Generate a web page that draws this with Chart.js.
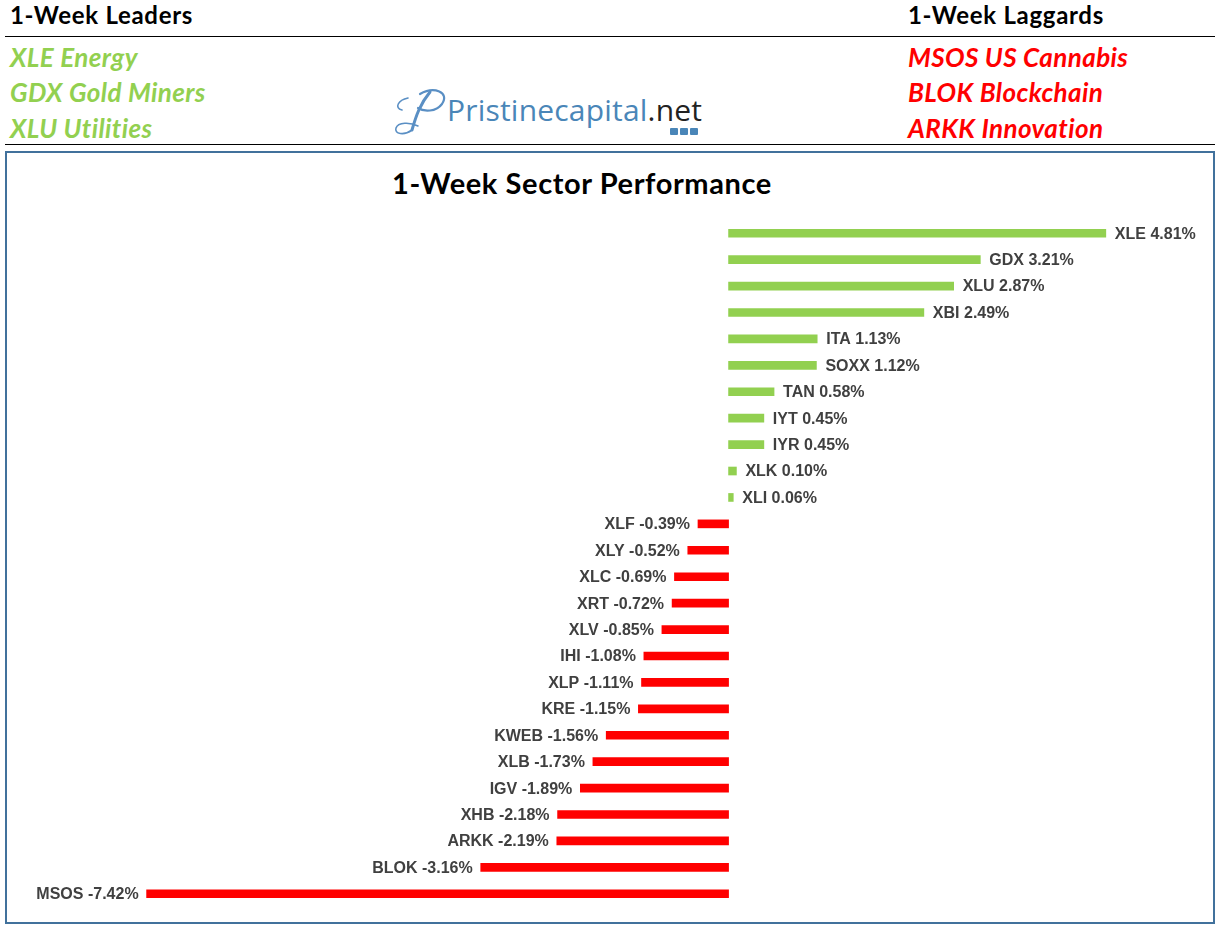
<!DOCTYPE html>
<html>
<head>
<meta charset="utf-8">
<script src="https://cdn.jsdelivr.net/npm/chart.js@4.4.1/dist/chart.umd.min.js"></script>
<style>
  body { margin: 0; background: #fff; width: 1218px; height: 928px; position: relative; overflow: hidden; font-family: Lato, 'Noto Sans', sans-serif; }
  .hdr { position: absolute; font-weight: bold; font-size: 24px; letter-spacing: 0.7px; color: #000; line-height: 30px; }
  .item { position: absolute; font-weight: bold; font-style: italic; font-size: 26px; letter-spacing: 0.4px; line-height: 30px; }
  .green { color: #92D050; }
  .red { color: #FF0000; }
  .rule { position: absolute; left: 5px; width: 1210px; height: 1px; background: #000; }
  .box { position: absolute; left: 5px; top: 151px; width: 1206px; height: 769px; border: 2px solid #41719C; }
  .title { position: absolute; left: 282px; width: 600px; top: 166px; text-align: center; font-weight: bold; font-size: 29px; letter-spacing: 0.6px; color: #000; line-height: 34px; }
  .logo { position: absolute; left: 390px; top: 86px; width: 320px; height: 52px; white-space: nowrap; }
  .logo svg { position: absolute; left: 0; top: 0; }
  .logo .name { font-family: 'Open Sans', sans-serif; font-size: 30px; color: #4A86B8; position: absolute; left: 57px; top: 6px; line-height: 36px; letter-spacing: 0.2px; }
  .logo .name span { color: #222; }
  .icons { position: absolute; left: 280px; top: 42px; display: flex; gap: 2px; }
  .icons i { display: block; width: 8px; height: 7px; background: #4A86B8; border-radius: 1px; }
  #chart { position: absolute; left: 7px; top: 220px; }
</style>
</head>
<body>
<div class="hdr" style="left:10px; top:0px;">1-Week Leaders</div>
<div class="hdr" style="left:908px; top:0px;">1-Week Laggards</div>
<div class="rule" style="top:36px;"></div>
<div class="rule" style="top:144px;"></div>
<div id="leaders"></div>
<div id="laggards"></div>
<div class="logo">
  <svg width="60" height="52" viewBox="0 0 60 52">
    <g fill="none" stroke="#5A8FC4" stroke-linecap="round">
      <path d="M22 44 C 26 30, 30 18, 40 6" stroke-width="3"/>
      <path d="M30 8 C 44 0, 60 6, 52 18 C 46 26, 34 26, 28 22" stroke-width="2.2"/>
      <path d="M18 12 C 8 14, 4 22, 12 24" stroke-width="1.6"/>
      <path d="M22 44 C 14 50, 4 48, 6 42 C 8 36, 20 36, 28 40" stroke-width="1.6"/>
    </g>
  </svg>
  <div class="name">Pristinecapital<span>.net</span></div>
  <div class="icons"><i></i><i></i><i></i></div>
</div>
<div class="box"></div>
<div class="title">1-Week Sector Performance</div>
<canvas id="chart" width="1200" height="687"></canvas>
<script>
const tickers = ['XLE', 'GDX', 'XLU', 'XBI', 'ITA', 'SOXX', 'TAN', 'IYT', 'IYR', 'XLK', 'XLI',
  'XLF', 'XLY', 'XLC', 'XRT', 'XLV', 'IHI', 'XLP', 'KRE', 'KWEB', 'XLB', 'IGV', 'XHB', 'ARKK', 'BLOK', 'MSOS']
const returns = [4.81, 3.21, 2.87, 2.49, 1.13, 1.12, 0.58, 0.45, 0.45, 0.10, 0.06,
  -0.39, -0.52, -0.69, -0.72, -0.85, -1.08, -1.11, -1.15, -1.56, -1.73, -1.89, -2.18, -2.19, -3.16, -7.42]
const leaders = ['XLE Energy', 'GDX Gold Miners', 'XLU Utilities']
const laggards = ['MSOS US Cannabis', 'BLOK Blockchain', 'ARKK Innovation']

// header lists
const rowTops = [42, 77, 113]
document.querySelector('#leaders').innerHTML = leaders.map((t, i) =>
  `<div class="item green" style="left:10px; top:${rowTops[i]}px;">${t}</div>`).join('')
document.querySelector('#laggards').innerHTML = laggards.map((t, i) =>
  `<div class="item red" style="left:908px; top:${rowTops[i]}px;">${t}</div>`).join('')

// ticker + value labels at the bar ends
const barLabels = {
  id: 'barLabels',
  afterDatasetsDraw(chart) {
    const ctx = chart.ctx
    const meta = chart.getDatasetMeta(0)
    ctx.save()
    ctx.font = "bold 16px 'Liberation Sans', sans-serif"
    ctx.fillStyle = '#404040'
    ctx.textBaseline = 'middle'
    meta.data.forEach((bar, i) => {
      const v = returns[i]
      const txt = tickers[i] + ' ' + v.toFixed(2) + '%'
      if (v >= 0) {
        ctx.textAlign = 'left'
        ctx.fillText(txt, bar.x + 9, bar.y + 1)
      } else {
        ctx.textAlign = 'right'
        ctx.fillText(txt, bar.x - 8, bar.y + 1)
      }
    })
    ctx.restore()
  }
}

new Chart(document.querySelector('#chart'), {
  type: 'bar',
  data: {
    labels: tickers,
    datasets: [{
      data: returns,
      backgroundColor: returns.map(v => v >= 0 ? '#92D050' : '#FF0000'),
      barThickness: 8,
      borderWidth: 0
    }]
  },
  options: {
    indexAxis: 'y',
    responsive: false,
    animation: false,
    devicePixelRatio: 1,
    layout: { padding: 0 },
    scales: {
      x: { display: false, min: -9.2, max: 6.1 },
      y: { display: false }
    },
    plugins: {
      legend: { display: false },
      tooltip: { enabled: false }
    }
  },
  plugins: [barLabels]
})
</script>
</body>
</html>
